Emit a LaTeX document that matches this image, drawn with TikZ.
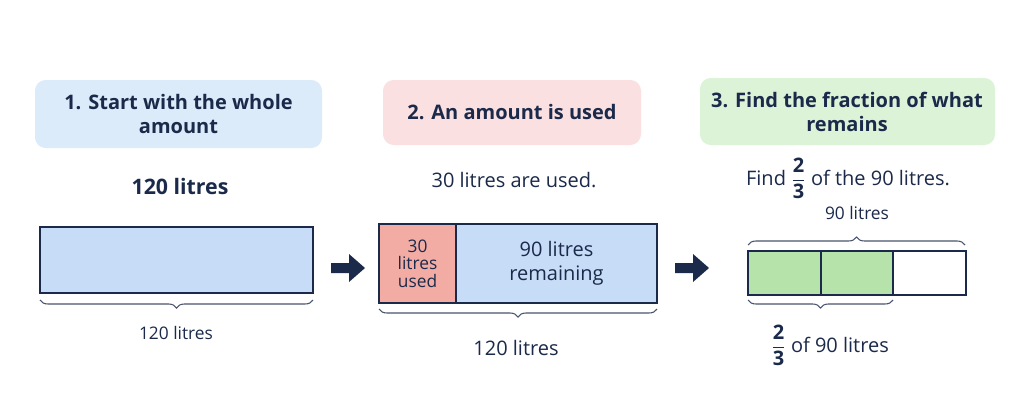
\documentclass[tikz,border=0pt]{standalone}
\usepackage{fontspec}
\usepackage{amsmath}
\setmainfont{Open Sans}
\usetikzlibrary{decorations.pathreplacing}
\definecolor{navy}{HTML}{1B2A4A}
\definecolor{hblue}{HTML}{DCEBFA}
\definecolor{hpink}{HTML}{FBE0E2}
\definecolor{hgreen}{HTML}{DDF3D8}
\definecolor{bblue}{HTML}{C7DCF6}
\definecolor{bred}{HTML}{F3ACA4}
\definecolor{bgreen}{HTML}{B5E3AA}
\newcommand{\twothirds}{$\dfrac{\textbf{2}}{\textbf{3}}$}
\begin{document}
\begin{tikzpicture}[x=0.75pt,y=-0.75pt,
 hdr/.style={rounded corners=8pt,draw=none},
 bar/.style={draw=navy,line width=1pt},
 brace/.style={decorate,decoration={brace,amplitude=6pt},draw=navy!80,line width=0.8pt},
 txt/.style={font=\fontsize{13}{15}\selectfont,text=navy,align=center},
 big/.style={font=\fontsize{15}{18}\selectfont,text=navy,align=center},
 hd/.style={font=\fontsize{15}{18}\selectfont\bfseries,text=navy,align=center}]
\useasboundingbox (0,0) rectangle (1024,404);
\fill[white] (0,0) rectangle (1024,404);
% headers
\fill[hblue,hdr] (35,80) rectangle (322,148);
\node[hd] (h1) at (178.5,114) {1. Start with the whole\\amount};
\fill[hpink,hdr] (383,80) rectangle (641,145);
\node[hd] (h2) at (512,112) {2. An amount is used};
\fill[hgreen,hdr] (700,78) rectangle (995,145);
\node[hd] (h3) at (847,112) {3. Find the fraction of what\\remains};
% subtitles
\node[hd,font=\fontsize{16}{19}\selectfont\bfseries] (s1) at (180,186) {120 litres};
\node[big] (s2) at (514,180) {30 litres are used.};
\node[big] (s3) at (848,178) {Find \twothirds{} of the 90 litres.};
% bar 1
\draw[bar,fill=bblue] (40,227) rectangle (313,293);
\coordinate (b1l) at (40,300); \coordinate (b1r) at (313,300);
\draw[brace,decoration={mirror}] (b1l) -- (b1r);
\node[txt] (l1) at (176,333) {120 litres};
% arrow 1
\fill[navy] (331,263) -- (349,263) -- (349,254) -- (365,268) -- (349,282) -- (349,273) -- (331,273) -- cycle;
% bar 2
\draw[bar,fill=bred] (379,224) rectangle (456,303);
\draw[bar,fill=bblue] (456,224) rectangle (657,303);
\node[txt] (r2) at (417.5,263.5) {30\\[-2pt]litres\\[-2pt]used};
\node[big] (bl2) at (556.5,263.5) {90 litres\\remaining};
\coordinate (b2l) at (379,309); \coordinate (b2r) at (657,309);
\draw[brace,decoration={mirror}] (b2l) -- (b2r);
\node[big] (l2) at (516,348) {120 litres};
% arrow 2
\fill[navy] (675,263) -- (693,263) -- (693,254) -- (709,268) -- (693,282) -- (693,273) -- (675,273) -- cycle;
% bar 3
\coordinate (t3l) at (748,245); \coordinate (t3r) at (965,245);
\draw[brace] (t3l) -- (t3r);
\node[txt] (l3a) at (857,213) {90 litres};
\draw[bar,fill=bgreen] (748,251) rectangle (821,295);
\draw[bar,fill=bgreen] (821,251) rectangle (893,295);
\draw[bar,fill=white] (893,251) rectangle (966,295);
\coordinate (b3l) at (748,300); \coordinate (b3r) at (893,300);
\draw[brace,decoration={mirror}] (b3l) -- (b3r);
\node[big] (l3b) at (830,345) {\twothirds{} of 90 litres};
\end{tikzpicture}
\end{document}
